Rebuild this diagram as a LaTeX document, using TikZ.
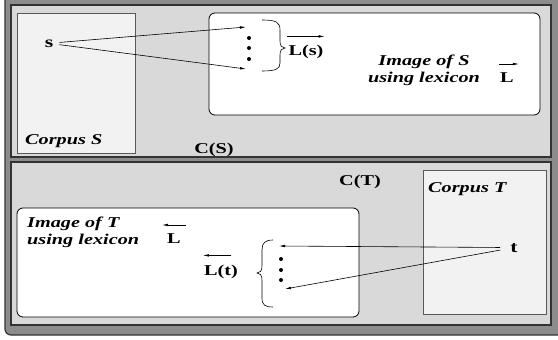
\documentclass[tikz,border=0pt]{standalone}
\usepackage{fontspec}
\setmainfont{Liberation Serif}[FakeStretch=1.35]
\usetikzlibrary{arrows.meta}

\definecolor{framegray}{gray}{0.55}
\definecolor{panelgray}{gray}{0.85}
\definecolor{corpusgray}{gray}{0.95}

\def\txtsize{\fontsize{15}{17}\selectfont}

\begin{document}
\begin{tikzpicture}[x=1pt,y=-1pt,>={Latex[length=6pt,width=2.6pt]},font=\txtsize]
    \tikzstyle{panel} = [draw=black!80, line width=1.2pt, fill=panelgray]
    \tikzstyle{corpus} = [draw=black!65, line width=0.8pt, fill=corpusgray]
    \tikzstyle{image} = [draw=black, line width=0.8pt, fill=white, rounded corners=6pt]
    \tikzstyle{annot} = [font=\txtsize\bfseries\itshape, inner sep=0pt]
    \tikzstyle{word} = [font=\txtsize\bfseries, inner sep=1pt]
    \tikzstyle{map} = [->, line width=0.6pt]
    \tikzstyle{vec} = [->, line width=0.6pt]
    \tikzstyle{curly} = [line width=0.6pt]

    \useasboundingbox (0,0) rectangle (558,340);
    \clip (0,0) rectangle (558,340);

    %%% DRAW THE FRAMES
    \draw[draw=black!80, line width=1.2pt, fill=framegray, rounded corners=6pt] (5,-10) rectangle (580,335);
    \path[panel] (11,5) rectangle (551,157);
    \path[panel] (11,162) rectangle (551,325);
    \path[corpus] (17,13) rectangle (135,153);
    \path[image] (209,13) rectangle (540,115);
    \path[corpus] (423,170) rectangle (546,314);
    \path[image] (17,208) rectangle (359,317);

    %%% DRAW THE NODES
    \node[word, anchor=base, font=\fontsize{16}{17}\selectfont\bfseries] (s) at (49,47) {s};
    \node[word, anchor=base, font=\fontsize{16}{17}\selectfont\bfseries] (t) at (514,252) {t};

    \coordinate (S-1) at (246,27);
    \coordinate (S-2) at (246,69);
    \coordinate (T-1) at (279,246);
    \coordinate (T-2) at (285,289);

    \foreach \y in {38,48,59}
        \fill (249,\y) circle (2);
    \foreach \y in {259,270,280}
        \fill (281,\y) circle (2);

    \draw[curly] (262,20) .. controls (276,20) and (280,22) .. (280,30) -- (280,41)
        .. controls (280,46) and (282,48) .. (285,48) .. controls (282,48) and (280,50) .. (280,55)
        -- (280,63) .. controls (280,69) and (276,71) .. (262,71);
    \draw[curly] (273,240) .. controls (265,240) and (262,243) .. (262,250) -- (262,266)
        .. controls (262,271) and (260,273) .. (257,273) .. controls (260,273) and (262,275) .. (262,280)
        -- (262,298) .. controls (262,305) and (265,307) .. (273,307);

    \node[word, anchor=base] (Ls) at (306,56) {L(s)};
    \node[word, anchor=base] (Lt) at (221,275) {L(t)};
    \node[word, anchor=base] (LS) at (507,82) {L};
    \node[word, anchor=base] (LT) at (174,243) {L};

    %%% DRAW THE PATHS
    \path[map, shorten <=5pt] (s) edge (S-1);
    \path[map, shorten <=5pt] (s) edge (S-2);
    \path[map, shorten <=9pt] (t) edge (T-1);
    \path[map, shorten <=9pt] (t) edge (T-2);

    \draw[vec] ([yshift=8pt]Ls.north west) -- ([yshift=8pt]Ls.north east);
    \draw[vec] ([yshift=7pt]LS.north west) -- ([yshift=7pt,xshift=4pt]LS.north east);
    \draw[vec] ([yshift=8pt,xshift=-8pt]Lt.north east) -- ([yshift=8pt]Lt.north west);
    \draw[vec] ([yshift=7pt,xshift=4pt]LT.north east) -- ([yshift=7pt,xshift=-4pt]LT.north west);

    %%% ANOTATE
    \node[annot, anchor=north, align=center] (imgS) at (424,55) {Image of S\\using lexicon};
    \node[annot, anchor=north west, align=left] (imgT) at (27,217) {Image of T\\using lexicon};
    \node[annot, anchor=base west] (corpS) at (25,144.5) {Corpus S};
    \node[annot, anchor=base west] (corpT) at (428,192) {Corpus T};
    \node[word, anchor=base] (CS) at (214,153) {C(S)};
    \node[word, anchor=base] (CT) at (360,185) {C(T)};

\end{tikzpicture}
\end{document}
